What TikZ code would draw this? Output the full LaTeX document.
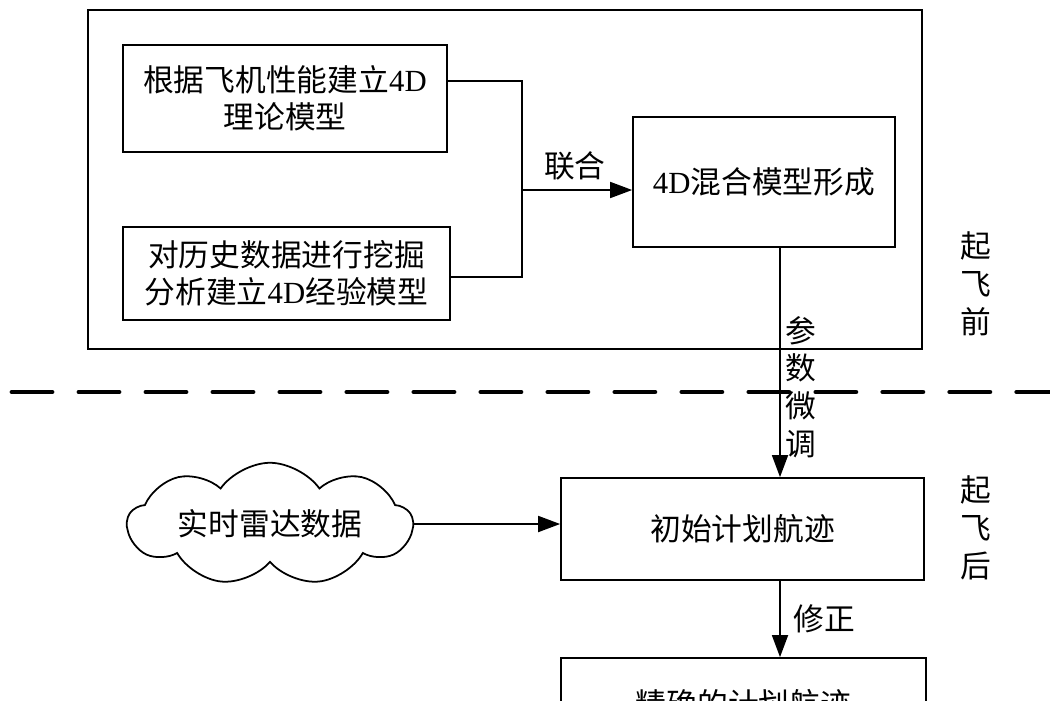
\documentclass[tikz,border=0pt]{standalone}
\usepackage{fontspec}
\setmainfont{Liberation Serif}
\newfontfamily\cjk{Noto Sans CJK SC}
\newfontfamily\latinfont{Liberation Serif}
\newcommand\lat[1]{{\latinfont #1}}
\usetikzlibrary{arrows.meta,shapes.symbols}

\begin{document}
\begin{tikzpicture}[x=0.02cm,y=-0.02cm,
		every node/.style={font=\cjk\fontsize{17.5}{21}\selectfont},
		stagebox/.style={draw,line width=1pt,inner sep=0pt,align=center},
		flow/.style={line width=1pt,-{Triangle[length=0.44cm,width=0.32cm]}},
		link/.style={line width=1pt},
		vlabel/.style={align=center,inner sep=0pt,font=\cjk\fontsize{17.5}{21.5}\selectfont}]
	\useasboundingbox (0,0) rectangle (1050,700);
	\draw[line width=1pt] (88,10) rectangle (922,349);
	\node[stagebox,minimum width=6.48cm,minimum height=2.14cm] (theory) at (285,98.5) {根据飞机性能建立\lat{4D}\\理论模型};
	\node[stagebox,minimum width=6.54cm,minimum height=1.86cm] (history) at (286.5,273.5) {对历史数据进行挖掘\\分析建立\lat{4D}经验模型};
	\node[stagebox,minimum width=5.24cm,minimum height=2.6cm] (mixed) at (764,182) {\lat{4D}混合模型形成};
	\node[draw,cloud,cloud puffs=9,cloud puff arc=110,cloud ignores aspect,line width=1pt,
		minimum width=5.7cm,minimum height=2.45cm,inner sep=0pt] (radar) at (270,524) {实时雷达数据};
	\node[stagebox,minimum width=7.26cm,minimum height=2.04cm] (initial) at (742.5,529) {初始计划航迹};
	\node[stagebox,minimum width=7.3cm,minimum height=1.84cm] (precise) at (743.5,704) {精确的计划航迹};
	\coordinate (bend1) at (522,81);
	\coordinate (bend2) at (522,277);
	\coordinate (join) at (522,190);
	\coordinate (axis) at (780,0);
	\draw[link] (bend1 -| theory.east) -- (bend1) -- (bend2) -- (bend2 -| history.east);
	\draw[flow] (join) -- node[above=2pt,pos=0.48] (joint) {联合} (join -| mixed.west);
	\draw[flow] (axis |- mixed.south) -- (axis |- initial.north);
	\draw[flow] (radar.east) -- (radar.east -| initial.west);
	\draw[flow] (axis |- initial.south) -- node[right=4pt] (fix) {修正} (axis |- precise.north);
	\node[vlabel] (tune) at (801,387) {参\\数\\微\\调};
	\node[vlabel] (before) at (976,284) {起\\飞\\前};
	\node[vlabel] (after) at (976,528) {起\\飞\\后};
	\draw[line width=2.8pt,line cap=round,dash pattern=on 0.8cm off 0.54cm] (12,392) -- (1050,392);
\end{tikzpicture}
\end{document}
